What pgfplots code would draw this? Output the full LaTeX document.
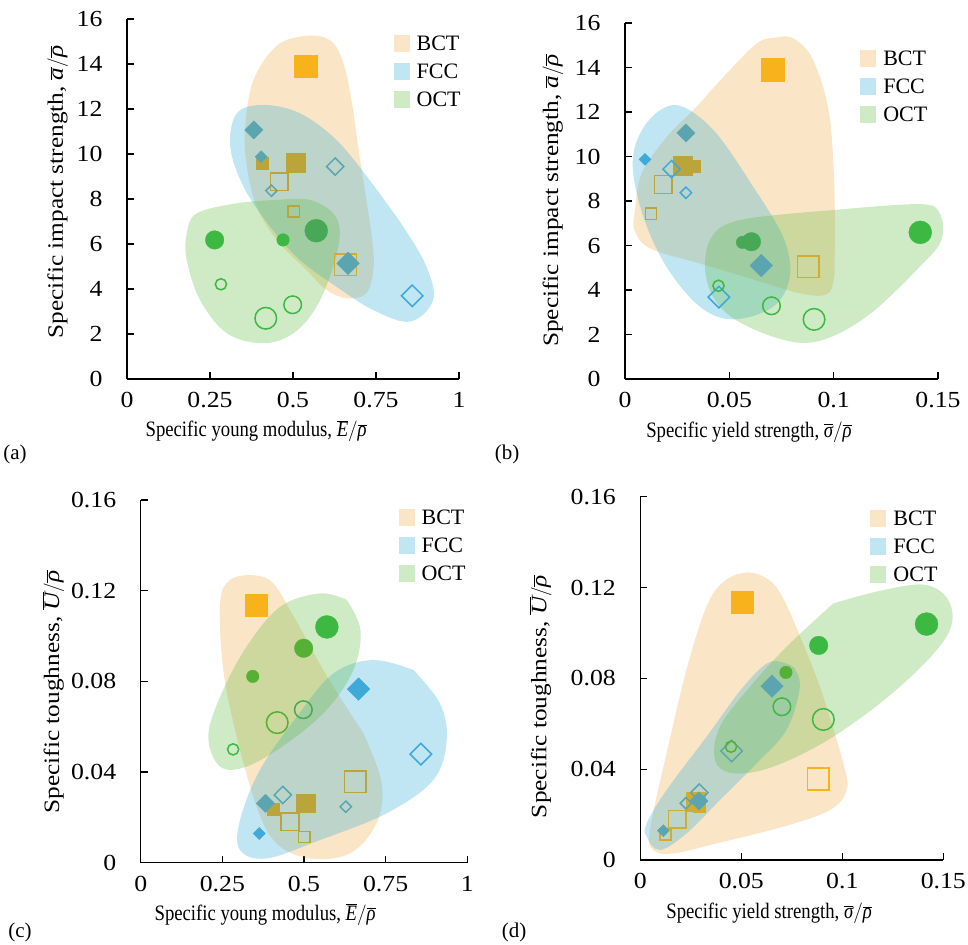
\documentclass[border=0pt]{standalone}
\usepackage{fontspec}
\setmainfont{Liberation Serif}
\newfontfamily\tickfont{Liberation Serif}[FakeStretch=1.12]
\newfontfamily\xlabfont{Liberation Serif}[FakeStretch=0.85]
\newfontfamily\ylabfont{Liberation Serif}[FakeStretch=1.15]
\usepackage{pgfplots}
\pgfplotsset{compat=1.18}
% blob colours (drawn at 30 % opacity)
\definecolor{bO}{HTML}{F2AA44}
\definecolor{bB}{HTML}{2DACD7}
\definecolor{bG}{HTML}{5FBC41}
% marker colours as they appear
\definecolor{cO}{HTML}{F8B21B}
\definecolor{cOl}{HTML}{BBA53A}
\definecolor{cOg}{HTML}{D2AC2C}
\definecolor{cB}{HTML}{3FA9D8}
\definecolor{cT}{HTML}{5BA5B0}
\definecolor{cG}{HTML}{3CB843}
\definecolor{cGd}{HTML}{47A955}
\definecolor{cGy}{HTML}{56B034}
\newcommand{\tfs}{\tickfont\fontsize{23}{27}\selectfont}
\newcommand{\xfs}{\xlabfont\fontsize{22}{26}\selectfont}
\newcommand{\yfs}{\ylabfont\fontsize{22}{26}\selectfont}
\newcommand{\lfs}{\fontsize{22}{26}\selectfont}
\newcommand{\pfs}{\fontsize{21}{25}\selectfont}
\newcommand{\ov}[1]{\overline{\mbox{\itshape #1}}}
\pgfplotsset{
  base/.style={scale only axis, anchor=south west,
    axis x line*=bottom, axis y line*=left,
    tick align=inside, major tick length=7pt,
    enlargelimits=false, clip=false, scaled ticks=false,
    axis line style={line width=1.2pt, black},
    every tick/.style={black, line width=1.1pt},
    tick label style={font=\tfs},
    xlabel style={font=\xfs}, ylabel style={font=\yfs},
    yticklabel shift=21pt, xticklabel shift=10pt,
    /pgf/number format/assume math mode=true,
    legend cell align=left,
    legend image code/.code={\fill[##1] (0pt,-8pt) rectangle (16pt,8.5pt);},
    legend style={draw=none, fill=none, inner sep=0pt, row sep=7pt, font=\lfs,
      nodes={inner sep=2.5pt},
      /tikz/every odd column/.append style={column sep=4.5pt}},
  },
  blob/.style={smooth, tension=0.6, fill opacity=0.3, draw=none, mark=none},
  blobO/.style={blob, fill=bO},
  blobB/.style={blob, fill=bB},
  blobG/.style={blob, fill=bG},
  mk/.style={only marks, forget plot},
  sqF/.style={mk, mark=square*, line width=0.3pt},
  sqO/.style={mk, mark=square, line width=1.5pt},
  dmF/.style={mk, mark=square*, line width=0.3pt, mark options={rotate=45}},
  dmO/.style={mk, mark=square, line width=1.5pt, mark options={rotate=45}},
  ciF/.style={mk, mark=*, line width=0.3pt},
  ciO/.style={mk, mark=o, line width=1.5pt},
  sqFL/.style={sqF, mark size=11.2pt}, sqFM/.style={sqF, mark size=9.2pt}, sqFS/.style={sqF, mark size=6pt},
  sqOL/.style={sqO, mark size=10.8pt}, sqOM/.style={sqO, mark size=8.8pt}, sqOS/.style={sqO, mark size=5.6pt},
  dmFL/.style={dmF, mark size=8pt}, dmFM/.style={dmF, mark size=6.5pt}, dmFS/.style={dmF, mark size=4.3pt},
  dmOL/.style={dmO, mark size=7.6pt}, dmOM/.style={dmO, mark size=6.1pt}, dmOS/.style={dmO, mark size=4pt},
  ciFL/.style={ciF, mark size=11.5pt}, ciFM/.style={ciF, mark size=9.3pt}, ciFS/.style={ciF, mark size=6.3pt},
  ciOL/.style={ciO, mark size=10.8pt}, ciOM/.style={ciO, mark size=8.8pt}, ciOS/.style={ciO, mark size=5.6pt},
}
\begin{document}
\begin{tikzpicture}
\path[use as bounding box] (0pt,0pt) rectangle (968pt,-944pt);
% ---------------- (a)
\begin{axis}[base, at={(127pt,-379pt)}, width=332pt, height=360pt,
  xmin=0, xmax=1, ymin=0, ymax=16,
  xtick={0,0.25,0.5,0.75,1}, xticklabels={0,0.25,0.5,0.75,1},
  ytick={0,2,4,6,8,10,12,14,16}, yticklabels={0,2,4,6,8,10,12,14,16},
  xlabel={Specific young modulus, $\ov{E}/\ov{ρ}$},
  ylabel={Specific impact strength, $\ov{a}/\ov{ρ}$},
  xlabel style={at={(axis description cs:0.389,-0.161)}, anchor=base},
  ylabel style={at={(axis description cs:-0.193,0.519)}, anchor=base},
  legend style={at={(rel axis cs:0.8025,0.961)}, anchor=north west}]
\addplot[blobO] coordinates {(0.696,10.33) (0.721,7.96) (0.736,6.47) (0.743,4.99) (0.721,3.81) (0.661,3.59) (0.601,3.96) (0.541,4.84) (0.451,6.18) (0.391,7.66) (0.361,9.44) (0.356,11.21) (0.381,13.29) (0.45,14.8) (0.531,15.24) (0.601,15.14) (0.641,14.47) (0.671,12.84) (0.696,10.33)};
\addplot[blobB] coordinates {(0.731,8.84) (0.832,6.77) (0.902,4.99) (0.922,3.51) (0.852,2.55) (0.741,3.07) (0.631,4.10) (0.521,5.29) (0.431,6.77) (0.351,8.55) (0.311,10.33) (0.331,11.81) (0.411,12.18) (0.521,11.81) (0.631,10.62) (0.731,8.84)};
\addplot[blobG] coordinates {(0.451,7.96) (0.551,7.96) (0.621,7.36) (0.641,6.47) (0.621,4.99) (0.571,3.21) (0.501,2.03) (0.411,1.59) (0.301,2.03) (0.220,3.51) (0.180,5.29) (0.180,6.47) (0.210,7.36) (0.331,7.81) (0.451,7.96)};
\legend{BCT,FCC,OCT}
\addplot[sqFL, color=cO] coordinates {(0.538,13.91)};
\addplot[sqFM, color=cOl] coordinates {(0.508,9.61)};
\addplot[sqFS, color=cOl] coordinates {(0.408,9.61)};
\addplot[sqOL, color=cOg] coordinates {(0.658,5.07)};
\addplot[sqOM, color=cOl] coordinates {(0.458,8.76)};
\addplot[sqOS, color=cOl] coordinates {(0.502,7.44)};
\addplot[dmFL, color=cT] coordinates {(0.666,5.14)};
\addplot[dmFM, color=cT] coordinates {(0.382,11.07)};
\addplot[dmFS, color=cT] coordinates {(0.404,9.88)};
\addplot[dmOL, color=cB] coordinates {(0.859,3.70)};
\addplot[dmOM, color=cT] coordinates {(0.627,9.44)};
\addplot[dmOS, color=cT] coordinates {(0.435,8.37)};
\addplot[ciFL, color=cGd] coordinates {(0.570,6.59)};
\addplot[ciFM, color=cG] coordinates {(0.264,6.18)};
\addplot[ciFS, color=cG] coordinates {(0.470,6.18)};
\addplot[ciOL, color=cG] coordinates {(0.418,2.70)};
\addplot[ciOM, color=cG] coordinates {(0.499,3.30)};
\addplot[ciOS, color=cG] coordinates {(0.283,4.21)};
\end{axis}
% ---------------- (b)
\begin{axis}[base, at={(625pt,-379pt)}, width=313pt, height=356pt,
  xmin=0, xmax=0.15, ymin=0, ymax=16,
  xtick={0,0.05,0.1,0.15}, xticklabels={0,0.05,0.1,0.15},
  ytick={0,2,4,6,8,10,12,14,16}, yticklabels={0,2,4,6,8,10,12,14,16},
  xlabel={Specific yield strength, $\ov{σ}/\ov{ρ}$},
  ylabel={Specific impact strength, $\ov{a}/\ov{ρ}$},
  xlabel style={at={(axis description cs:0.396,-0.163)}, anchor=base},
  ylabel style={at={(axis description cs:-0.214,0.502)}, anchor=base},
  legend style={at={(rel axis cs:0.751,0.930)}, anchor=north west}]
\addplot[blobO] coordinates {(0.1005,8.04) (0.1005,5.5) (0.1000,4.45) (0.0965,3.80) (0.0838,3.85) (0.0598,4.52) (0.0359,5.19) (0.0120,5.87) (0.0045,6.7) (0.0048,7.59) (0.0080,9.24) (0.0200,10.88) (0.0335,12.16) (0.0479,13.65) (0.0630,15.07) (0.0718,15.34) (0.0806,15.31) (0.0902,14.33) (0.0981,11.78) (0.1005,8.04)};
\addplot[blobB] coordinates {(0.0614,8.64) (0.0758,6.39) (0.0790,4.60) (0.0710,3.25) (0.0519,2.68) (0.0359,3.25) (0.0199,5.04) (0.0088,7.29) (0.0037,9.54) (0.0072,11.03) (0.0168,12.08) (0.0279,12.23) (0.0439,11.03) (0.0614,8.64)};
\addplot[blobG] coordinates {(0.0997,7.59) (0.1412,7.86) (0.1508,7.44) (0.1516,6.24) (0.1412,5.04) (0.1157,2.80) (0.0917,1.68) (0.0710,1.90) (0.0487,2.95) (0.0391,4.45) (0.0407,6.24) (0.0550,7.14) (0.0997,7.59)};
\legend{BCT,FCC,OCT}
\addplot[sqFL, color=cO] coordinates {(0.0707,13.91)};
\addplot[sqFM, color=cOl] coordinates {(0.0276,9.58)};
\addplot[sqFS, color=cOl] coordinates {(0.0330,9.58)};
\addplot[sqOL, color=cOg] coordinates {(0.0879,5.04)};
\addplot[sqOM, color=cOl] coordinates {(0.0184,8.74)};
\addplot[sqOS, color=cOl] coordinates {(0.0124,7.43)};
\addplot[dmFL, color=cT] coordinates {(0.0653,5.10)};
\addplot[dmFM, color=cT] coordinates {(0.0292,11.06)};
\addplot[dmFS, color=cB] coordinates {(0.0096,9.87)};
\addplot[dmOL, color=cB] coordinates {(0.0450,3.68)};
\addplot[dmOM, color=cB] coordinates {(0.0223,9.43)};
\addplot[dmOS, color=cB] coordinates {(0.0292,8.37)};
\addplot[ciFL, color=cG] coordinates {(0.1415,6.59)};
\addplot[ciFM, color=cGd] coordinates {(0.0606,6.17)};
\addplot[ciFS, color=cGd] coordinates {(0.0563,6.14)};
\addplot[ciOL, color=cG] coordinates {(0.0906,2.68)};
\addplot[ciOM, color=cG] coordinates {(0.0702,3.29)};
\addplot[ciOS, color=cG] coordinates {(0.0448,4.19)};
\end{axis}
% ---------------- (c)
\begin{axis}[base, at={(140.7pt,-862.7pt)}, width=326.6pt, height=362.7pt,
  xmin=0, xmax=1, ymin=0, ymax=0.16,
  xtick={0,0.25,0.5,0.75,1}, xticklabels={0,0.25,0.5,0.75,1},
  ytick={0,0.04,0.08,0.12,0.16}, yticklabels={0,0.04,0.08,0.12,0.16},
  xlabel={Specific young modulus, $\ov{E}/\ov{ρ}$},
  ylabel={Specific toughness, $\ov{U}/\ov{ρ}$},
  xlabel style={at={(axis description cs:0.381,-0.158)}, anchor=base},
  ylabel style={at={(axis description cs:-0.25,0.471)}, anchor=base},
  legend style={at={(rel axis cs:0.789,0.981)}, anchor=north west}]
\addplot[blobO] coordinates {(0.682,0.0571) (0.738,0.0350) (0.722,0.0174) (0.641,0.0041) (0.518,0.0019) (0.416,0.0085) (0.355,0.0247) (0.294,0.0556) (0.253,0.0850) (0.243,0.1144) (0.273,0.1247) (0.345,0.1268) (0.406,0.1232) (0.469,0.1085) (0.571,0.0821) (0.682,0.0571)};
\addplot[blobB] coordinates {(0.835,0.0850) (0.916,0.0703) (0.937,0.0541) (0.896,0.0365) (0.753,0.0218) (0.549,0.0100) (0.386,0.0019) (0.304,0.0056) (0.304,0.0188) (0.365,0.0409) (0.478,0.0644) (0.590,0.0835) (0.712,0.0894) (0.835,0.0850)};
\addplot[blobG] coordinates {(0.631,0.1159) (0.673,0.1026) (0.651,0.0850) (0.569,0.0674) (0.447,0.0526) (0.324,0.0424) (0.243,0.0424) (0.207,0.0556) (0.243,0.0732) (0.324,0.0953) (0.427,0.1129) (0.549,0.1188) (0.631,0.1159)};
\legend{BCT,FCC,OCT}
\addplot[sqFL, color=cO] coordinates {(0.354,0.1135)};
\addplot[sqFM, color=cOl] coordinates {(0.505,0.0262)};
\addplot[sqFS, color=cOl] coordinates {(0.407,0.0237)};
\addplot[sqOL, color=cOl] coordinates {(0.657,0.0357)};
\addplot[sqOM, color=cOl] coordinates {(0.457,0.0181)};
\addplot[sqOS, color=cOl] coordinates {(0.501,0.0113)};
\addplot[dmFL, color=cB] coordinates {(0.667,0.0766)};
\addplot[dmFM, color=cT] coordinates {(0.382,0.0262)};
\addplot[dmFS, color=cB] coordinates {(0.363,0.0129)};
\addplot[dmOL, color=cB] coordinates {(0.858,0.0479)};
\addplot[dmOM, color=cT] coordinates {(0.435,0.0299)};
\addplot[dmOS, color=cT] coordinates {(0.628,0.0247)};
\addplot[ciFL, color=cG] coordinates {(0.570,0.1040)};
\addplot[ciFM, color=cGy] coordinates {(0.499,0.0946)};
\addplot[ciFS, color=cGy] coordinates {(0.343,0.0822)};
\addplot[ciOL, color=cGy] coordinates {(0.418,0.0618)};
\addplot[ciOM, color=cGd] coordinates {(0.498,0.0675)};
\addplot[ciOS, color=cG] coordinates {(0.283,0.0500)};
\end{axis}
% ---------------- (d)
\begin{axis}[base, at={(640.3pt,-860pt)}, width=303pt, height=363.3pt,
  xmin=0, xmax=0.15, ymin=0, ymax=0.16,
  xtick={0,0.05,0.1,0.15}, xticklabels={0,0.05,0.1,0.15},
  ytick={0,0.04,0.08,0.12,0.16}, yticklabels={0,0.04,0.08,0.12,0.16},
  xlabel={Specific yield strength, $\ov{σ}/\ov{ρ}$},
  ylabel={Specific toughness, $\ov{U}/\ov{ρ}$},
  xlabel style={at={(axis description cs:0.425,-0.162)}, anchor=base},
  ylabel style={at={(axis description cs:-0.31,0.45)}, anchor=base},
  legend style={at={(rel axis cs:0.759,0.969)}, anchor=north west}]
\addplot[blobO] coordinates {(0.0757,0.1057) (0.0889,0.0763) (0.1005,0.0426) (0.1021,0.0308) (0.0939,0.0220) (0.0708,0.0147) (0.0378,0.0073) (0.0163,0.0029) (0.0064,0.0044) (0.0048,0.0132) (0.0130,0.0470) (0.0246,0.0895) (0.0361,0.1174) (0.0510,0.1265) (0.0658,0.1218) (0.0757,0.1057)};
\addplot[blobB] coordinates {(0.0757,0.0851) (0.0790,0.0763) (0.0724,0.0573) (0.0576,0.0426) (0.0394,0.0264) (0.0229,0.0117) (0.0097,0.0044) (0.0031,0.0103) (0.0031,0.0161) (0.0130,0.0308) (0.0328,0.0543) (0.0510,0.0763) (0.0644,0.0873) (0.0757,0.0851)};
\addplot[blobG] coordinates {(0.0955,0.1130) (0.1203,0.1189) (0.1417,0.1211) (0.1533,0.1130) (0.1516,0.0984) (0.1285,0.0763) (0.0955,0.0543) (0.0658,0.0411) (0.0460,0.0382) (0.0370,0.0440) (0.0394,0.0587) (0.0543,0.0763) (0.0724,0.0939) (0.0955,0.1130)};
\legend{BCT,FCC,OCT}
\addplot[sqFL, color=cO] coordinates {(0.0503,0.1136)};
\addplot[sqFM, color=cOg] coordinates {(0.0274,0.0257)};
\addplot[sqFS, color=cOg] coordinates {(0.0290,0.0237)};
\addplot[sqOL, color=cO] coordinates {(0.0880,0.0357)};
\addplot[sqOM, color=cOg] coordinates {(0.0183,0.0179)};
\addplot[sqOS, color=cOg] coordinates {(0.0124,0.0113)};
\addplot[dmFL, color=cT] coordinates {(0.0652,0.0766)};
\addplot[dmFM, color=cT] coordinates {(0.0290,0.0260)};
\addplot[dmFS, color=cT] coordinates {(0.0114,0.0129)};
\addplot[dmOL, color=cT] coordinates {(0.0452,0.0480)};
\addplot[dmOM, color=cT] coordinates {(0.0292,0.0297)};
\addplot[dmOS, color=cT] coordinates {(0.0226,0.0250)};
\addplot[ciFL, color=cG] coordinates {(0.1417,0.1039)};
\addplot[ciFM, color=cG] coordinates {(0.0883,0.0945)};
\addplot[ciFS, color=cGy] coordinates {(0.0721,0.0826)};
\addplot[ciOL, color=cG] coordinates {(0.0906,0.0619)};
\addplot[ciOM, color=cG] coordinates {(0.0701,0.0675)};
\addplot[ciOS, color=cGy] coordinates {(0.0449,0.0499)};
\end{axis}
\node[font=\pfs, inner sep=0pt, anchor=base] at (15pt,-459pt) {(a)};
\node[font=\pfs, inner sep=0pt, anchor=base] at (507pt,-459pt) {(b)};
\node[font=\pfs, inner sep=0pt, anchor=base] at (20pt,-937pt) {(c)};
\node[font=\pfs, inner sep=0pt, anchor=base] at (514pt,-937pt) {(d)};
\end{tikzpicture}
\end{document}
